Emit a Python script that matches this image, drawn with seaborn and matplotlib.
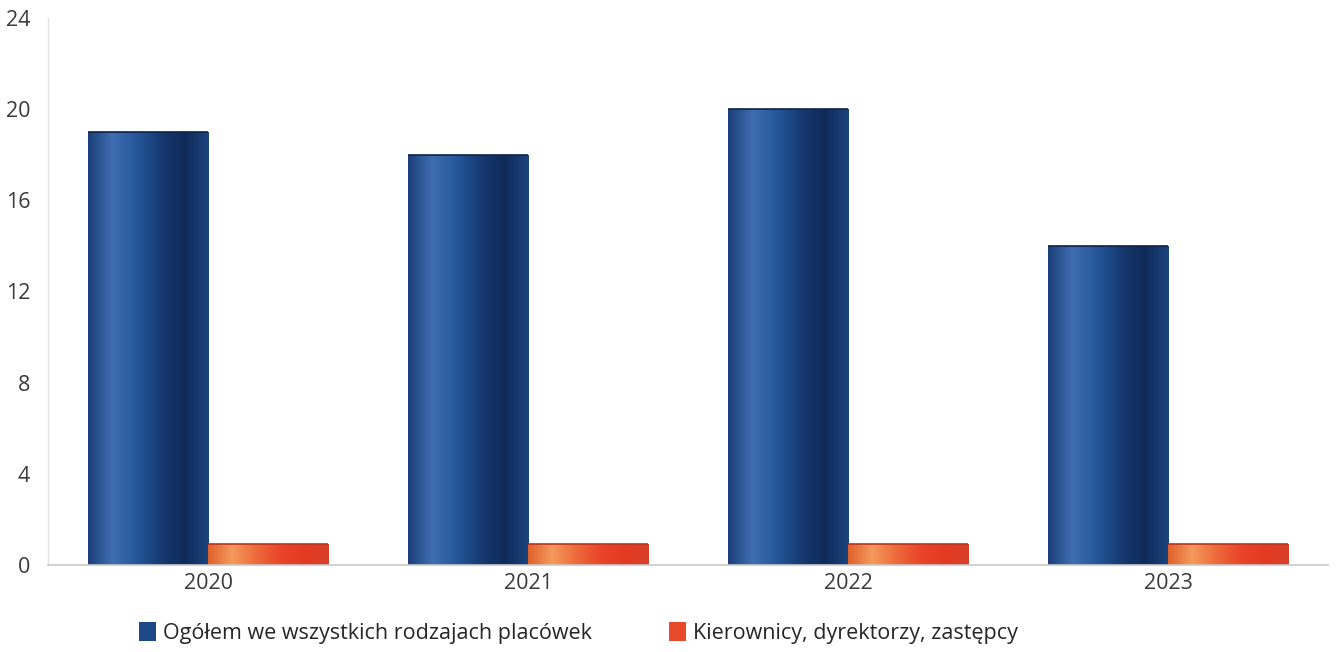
import numpy as np
import pandas as pd
import matplotlib
matplotlib.use("Agg")
import matplotlib.pyplot as plt
import seaborn as sns
from matplotlib.colors import LinearSegmentedColormap
from matplotlib.patches import Patch

# data
years = ["2020", "2021", "2022", "2023"]
total = [19, 18, 20, 14]
managers = [0.9, 0.9, 0.9, 0.9]
series_names = ["Ogółem we wszystkich rodzajach placówek",
                "Kierownicy, dyrektorzy, zastępcy"]
y_ticks = [0, 4, 8, 12, 16, 20, 24]

df = pd.DataFrame({
    "year": years * 2,
    "value": total + managers,
    "series": [series_names[0]] * len(years) + [series_names[1]] * len(years),
})

sns.set_style("white")
plt.rcParams['font.family'] = ['Open Sans', 'DejaVu Sans']

base_colors = ["#1d4887", "#e8492a"]
# cylinder-like shading for each series
cmaps = [
    LinearSegmentedColormap.from_list("blue_cyl", ["#1a3f78", "#3f6db0", "#25579a", "#163a72", "#0f2a58", "#1c447f"]),
    LinearSegmentedColormap.from_list("orange_cyl", ["#e0602c", "#f59a5c", "#ee6a3a", "#e8452a", "#e33a22", "#d8402a"]),
]

fig = plt.figure(figsize=(13.39, 6.52), dpi=100)
ax = fig.add_axes([0.036, 0.134, 0.956, 0.838])

sns.barplot(data=df, x="year", y="value", hue="series", palette=base_colors,
            width=0.75, saturation=1, legend=False, ax=ax)

grad = np.linspace(0, 1, 256).reshape(1, -1)
n = len(years)
for i, patch in enumerate(list(ax.patches)[:2 * n]):
    cmap = cmaps[i // n]
    x0, y0 = patch.get_x(), patch.get_y()
    w, h = patch.get_width(), patch.get_height()
    im = ax.imshow(grad, extent=[x0, x0 + w, y0, y0 + h], cmap=cmap,
                   aspect="auto", zorder=patch.get_zorder() + 0.1)
    im.set_clip_path(patch)
    # thin darker rim along the top of each bar
    ax.plot([x0, x0 + w], [y0 + h, y0 + h], color="#0e2246" if i < n else "#b8331c",
            lw=1.2, zorder=patch.get_zorder() + 0.2, solid_capstyle="butt")

ax.set_xlim(-0.5, n - 0.5)
ax.set_ylim(0, 24)
ax.set_yticks(y_ticks)
ax.set_xlabel("")
ax.set_ylabel("")
ax.tick_params(axis="both", length=0, labelsize=15.5, labelcolor="#3a3a3a")
ax.tick_params(axis="x", pad=6)
ax.tick_params(axis="y", pad=13)

for side in ["top", "right"]:
    ax.spines[side].set_visible(False)
ax.spines["left"].set_color("#e2e2e2")
ax.spines["bottom"].set_color("#c8c8c8")
ax.spines["left"].set_linewidth(1.0)
ax.spines["bottom"].set_linewidth(1.2)

handles = [Patch(facecolor=base_colors[0], edgecolor="none"),
           Patch(facecolor=base_colors[1], edgecolor="none")]
fig.legend(handles, series_names, loc="center", bbox_to_anchor=(0.432, 0.029),
           ncol=2, frameon=False, handlelength=0.8, handleheight=1.0,
           handletextpad=0.3, columnspacing=3.6,
           prop={"family": ["Open Sans", "DejaVu Sans"], "size": 15.5})

fig.savefig("out.png", dpi=100, facecolor="white")
